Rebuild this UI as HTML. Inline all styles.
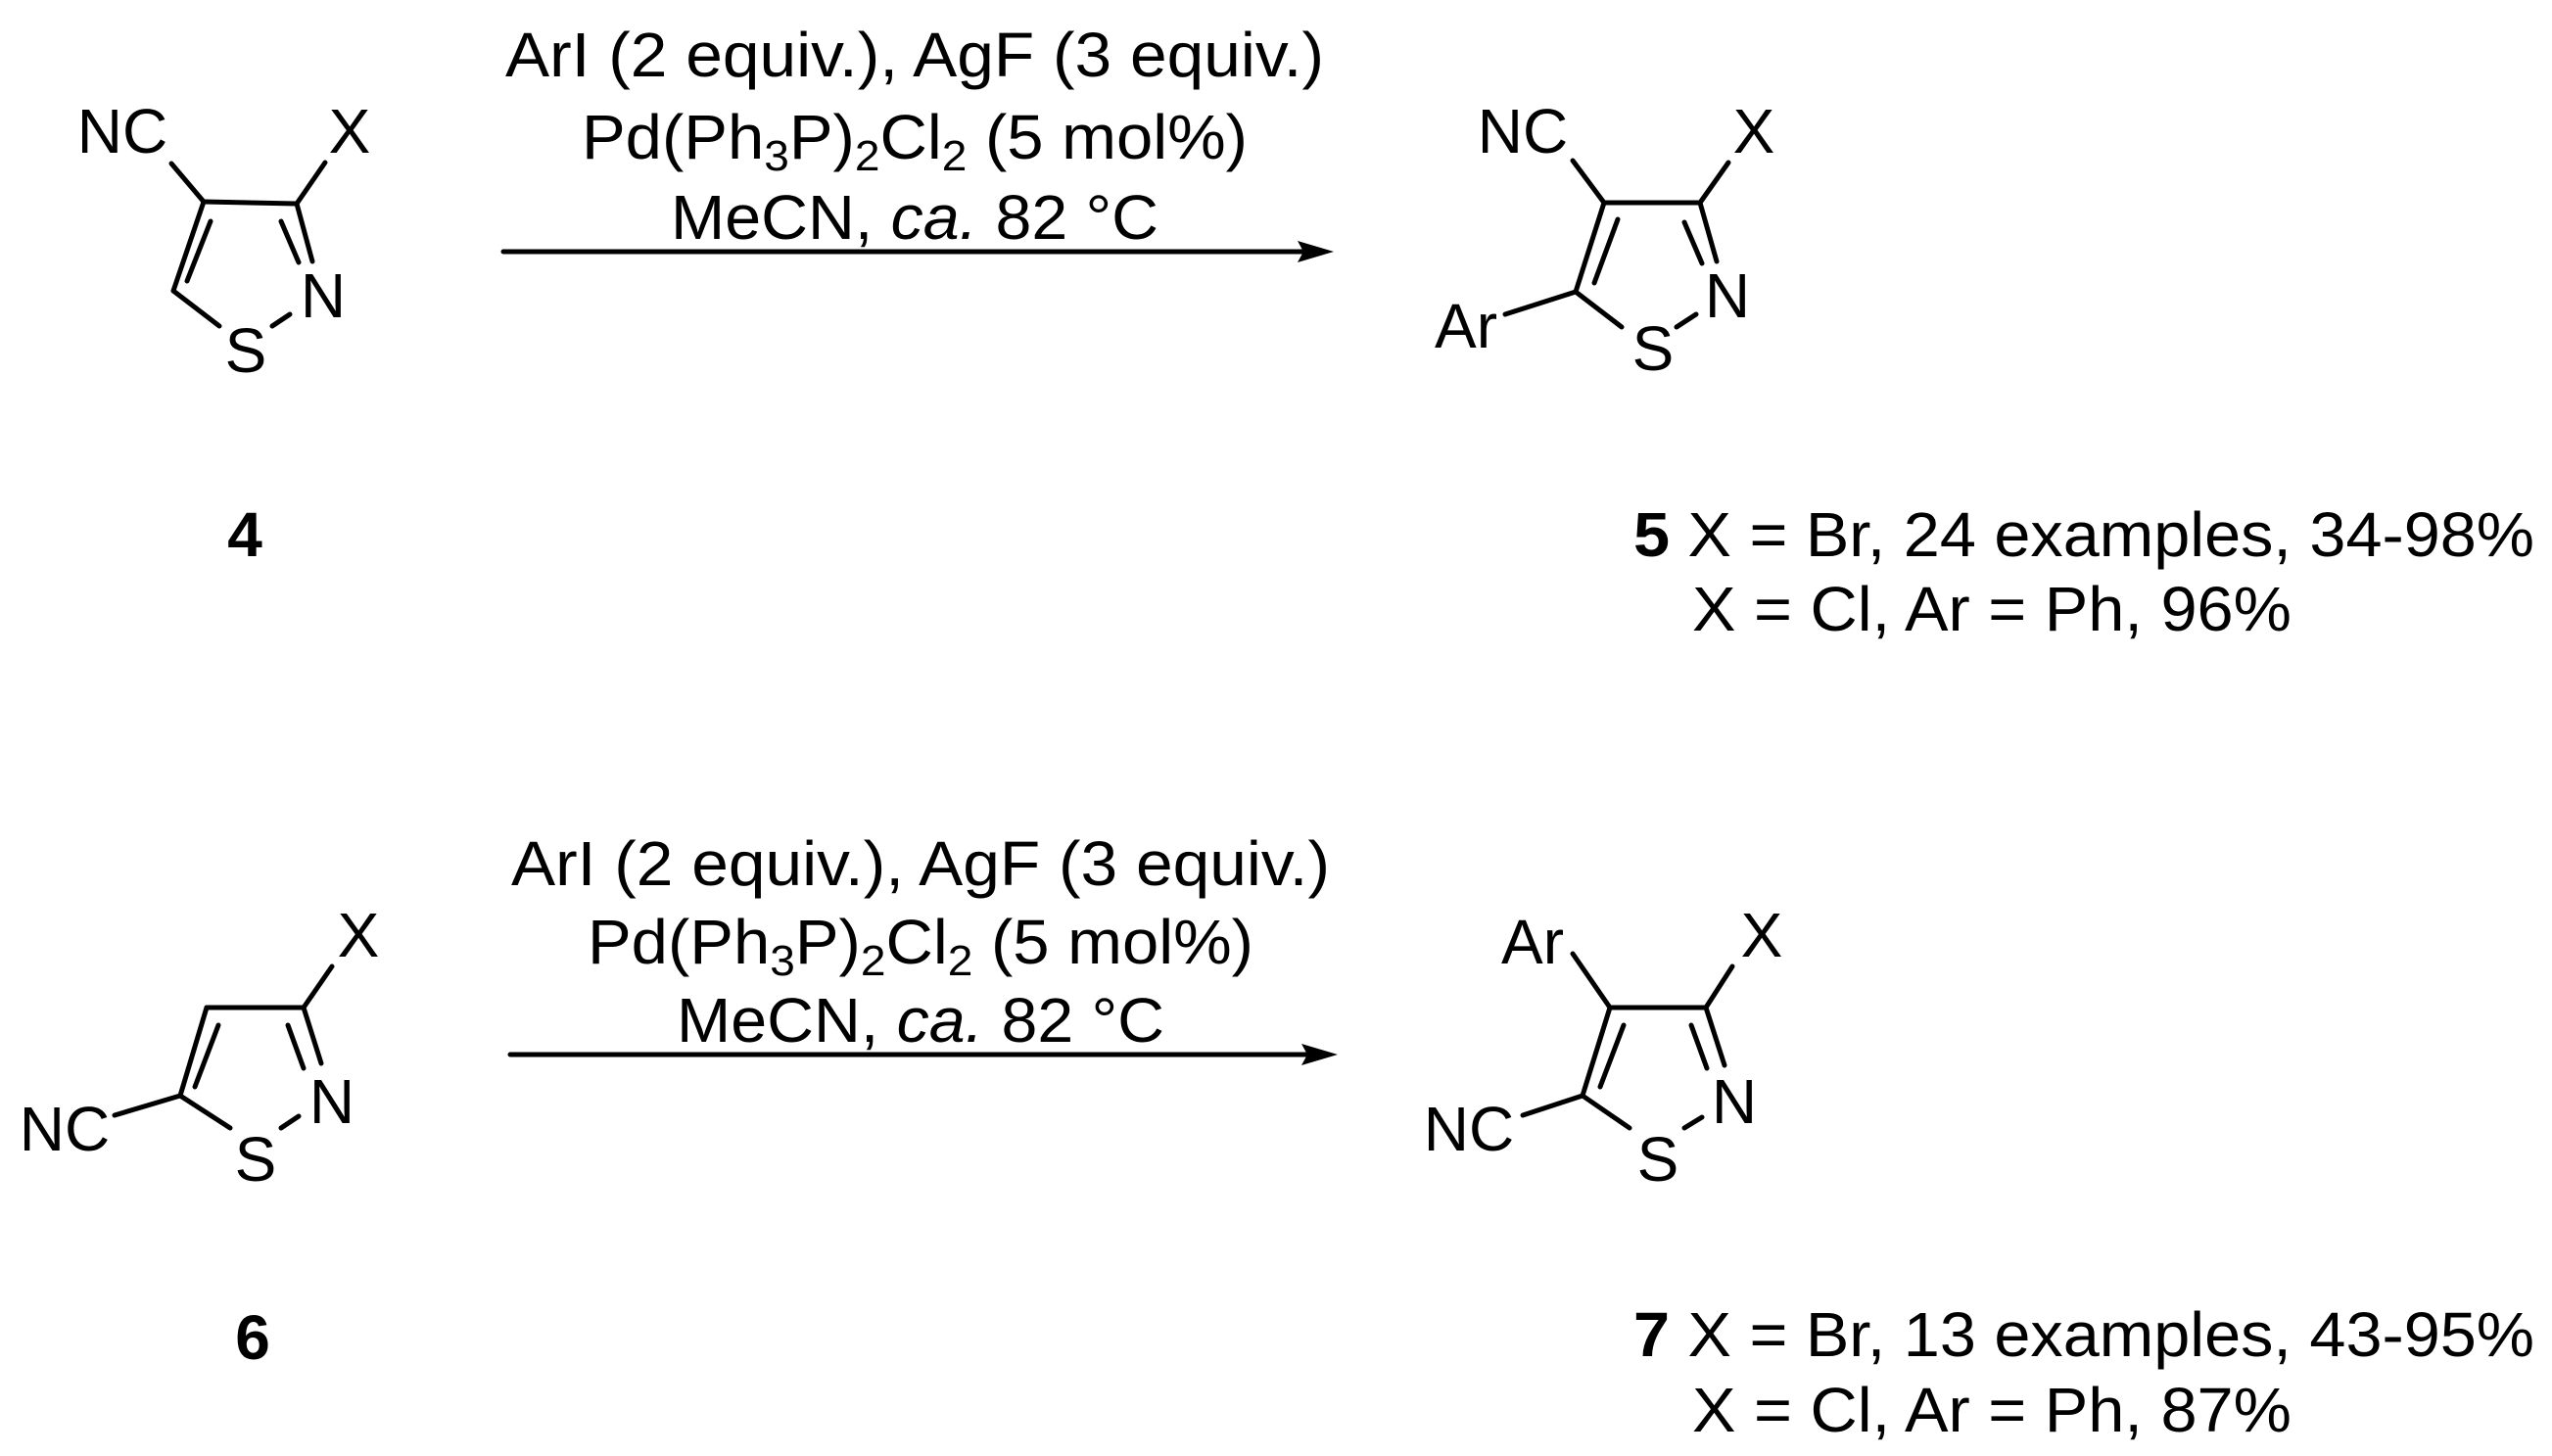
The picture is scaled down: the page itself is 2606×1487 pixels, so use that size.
<!DOCTYPE html>
<html><head><meta charset="utf-8"><style>
html,body{margin:0;padding:0;background:#fff;}
svg{display:block;}
text{font-family:"Liberation Sans",Arial,sans-serif;font-size:64px;fill:#000;}
</style></head><body>
<svg width="2606" height="1487" viewBox="0 0 2606 1487" xmlns="http://www.w3.org/2000/svg">
<g stroke="#000" stroke-width="5" fill="none" stroke-linecap="round">
<!-- 4 -->
<line x1="175" y1="167" x2="208" y2="206"/><line x1="332" y1="166" x2="303" y2="208"/>
<line x1="208" y1="206" x2="303" y2="208"/>
<line x1="208" y1="206" x2="177" y2="297"/><line x1="215" y1="226" x2="191" y2="287"/>
<line x1="303" y1="208" x2="319" y2="267"/><line x1="287" y1="226" x2="305" y2="268"/>
<line x1="177" y1="297" x2="224" y2="333"/><line x1="278" y1="333" x2="296" y2="321"/>
<!-- 5 -->
<line x1="1606" y1="164" x2="1638" y2="207"/><line x1="1765" y1="166" x2="1736" y2="207"/>
<line x1="1638" y1="207" x2="1736" y2="207"/>
<line x1="1638" y1="207" x2="1609" y2="298"/><line x1="1652" y1="224" x2="1628" y2="289"/>
<line x1="1736" y1="207" x2="1753" y2="267"/><line x1="1720" y1="227" x2="1738" y2="269"/>
<line x1="1537" y1="321" x2="1609" y2="298"/>
<line x1="1609" y1="298" x2="1656" y2="334"/><line x1="1712" y1="334" x2="1732" y2="321"/>
<!-- 6 -->
<line x1="339" y1="987" x2="310" y2="1029"/>
<line x1="211" y1="1029" x2="310" y2="1029"/>
<line x1="211" y1="1029" x2="184" y2="1119"/><line x1="223" y1="1047" x2="199" y2="1110"/>
<line x1="310" y1="1029" x2="328" y2="1086"/><line x1="294" y1="1047" x2="310" y2="1091"/>
<line x1="117" y1="1139" x2="184" y2="1119"/>
<line x1="184" y1="1119" x2="235" y2="1152"/><line x1="287" y1="1152" x2="305" y2="1140"/>
<!-- 7 -->
<line x1="1606" y1="974" x2="1644" y2="1029"/><line x1="1769" y1="987" x2="1742" y2="1029"/>
<line x1="1644" y1="1029" x2="1742" y2="1029"/>
<line x1="1644" y1="1029" x2="1616" y2="1119"/><line x1="1658" y1="1047" x2="1634" y2="1110"/>
<line x1="1742" y1="1029" x2="1761" y2="1088"/><line x1="1727" y1="1047" x2="1743" y2="1091"/>
<line x1="1555" y1="1139" x2="1616" y2="1119"/>
<line x1="1616" y1="1119" x2="1664" y2="1152"/><line x1="1720" y1="1152" x2="1738" y2="1141"/>
<!-- arrows -->
<line x1="514" y1="257" x2="1330" y2="257"/>
<line x1="521" y1="1077" x2="1334" y2="1077"/>
</g>
<polygon points="1362,257 1325,246 1331,257 1325,268" fill="#000"/>
<polygon points="1366,1077 1329,1066 1335,1077 1329,1088" fill="#000"/>

<g text-anchor="middle">
<text x="125" y="156">NC</text><text x="357" y="156">X</text>
<text x="330" y="324">N</text><text x="251" y="380">S</text>
<text x="250" y="568" font-weight="bold">4</text>
<text x="1555" y="156">NC</text><text x="1791" y="156">X</text>
<text x="1764" y="324">N</text><text x="1688" y="378">S</text>
<text x="1497" y="355">Ar</text>
<text x="366" y="977">X</text><text x="339" y="1147">N</text>
<text x="66" y="1175">NC</text><text x="261" y="1206">S</text>
<text x="258" y="1388" font-weight="bold">6</text>
<text x="1565" y="984">Ar</text><text x="1799" y="977">X</text>
<text x="1771" y="1147">N</text><text x="1500" y="1175">NC</text>
<text x="1693" y="1206">S</text>
<text x="934" y="78" textLength="836" lengthAdjust="spacingAndGlyphs">ArI (2 equiv.), AgF (3 equiv.)</text>
<text x="934" y="162" textLength="680" lengthAdjust="spacingAndGlyphs">Pd(Ph<tspan font-size="44" dy="12">3</tspan><tspan dy="-12">P)</tspan><tspan font-size="44" dy="12">2</tspan><tspan dy="-12">Cl</tspan><tspan font-size="44" dy="12">2</tspan><tspan dy="-12"> (5 mol%)</tspan></text>
<text x="934" y="244" textLength="498" lengthAdjust="spacingAndGlyphs">MeCN, <tspan font-style="italic">ca.</tspan> 82 °C</text>
<text x="940" y="904" textLength="836" lengthAdjust="spacingAndGlyphs">ArI (2 equiv.), AgF (3 equiv.)</text>
<text x="940" y="984" textLength="680" lengthAdjust="spacingAndGlyphs">Pd(Ph<tspan font-size="44" dy="12">3</tspan><tspan dy="-12">P)</tspan><tspan font-size="44" dy="12">2</tspan><tspan dy="-12">Cl</tspan><tspan font-size="44" dy="12">2</tspan><tspan dy="-12"> (5 mol%)</tspan></text>
<text x="940" y="1064" textLength="498" lengthAdjust="spacingAndGlyphs">MeCN, <tspan font-style="italic">ca.</tspan> 82 °C</text>
</g>
<text x="1668" y="568" textLength="920" lengthAdjust="spacingAndGlyphs"><tspan font-weight="bold">5</tspan> X = Br, 24 examples, 34-98%</text>
<text x="1728" y="644" textLength="612" lengthAdjust="spacingAndGlyphs">X = Cl, Ar = Ph, 96%</text>
<text x="1668" y="1385" textLength="920" lengthAdjust="spacingAndGlyphs"><tspan font-weight="bold">7</tspan> X = Br, 13 examples, 43-95%</text>
<text x="1728" y="1462" textLength="612" lengthAdjust="spacingAndGlyphs">X = Cl, Ar = Ph, 87%</text>
</svg>
</body></html>
